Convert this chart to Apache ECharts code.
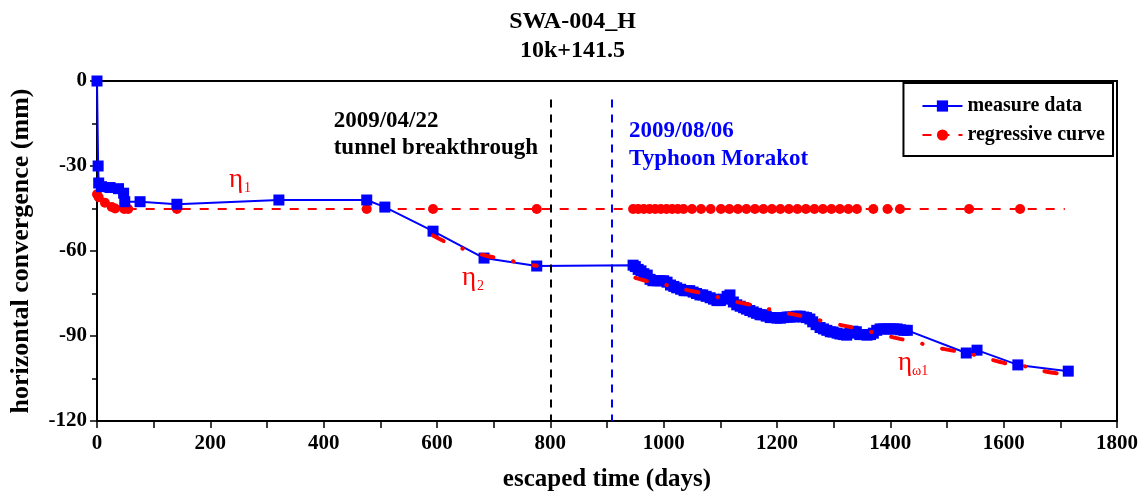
<!DOCTYPE html>
<html>
<head>
<meta charset="utf-8">
<script src="https://cdn.jsdelivr.net/npm/echarts@6/dist/echarts.min.js"></script>
<style>html,body{margin:0;padding:0;background:#fff}#c{width:1145px;height:499px}</style>
</head>
<body>
<div id="c"></div>
<script>
// ---- data ----
const measureDays = [0,2,3,8,23,38,47,49,76,141,321,476,508,593,683,776,946,
  950,955,960,965,971,976,981,988,994,1000,1006,1012,1018,1023,1030,1036,1041,1046,1052,1058,1064,1069,1075,1082,1088,1094,1100,1106,1112,1117,1123,1129,1135,1141,1146,1152,1158,1164,1170,1175,1181,1188,1194,1200,1206,1212,1218,1223,1229,1235,1241,1247,1252,1258,1263,1269,1276,1282,1288,1294,1299,1306,1311,1317,1323,1329,1334,1340,1346,1352,1359,1365,1370,1376,1382,1388,1394,1400,1406,1412,1418,1424,1430,
  1534,1553,1625,1714];
const measureValues = [0,-30,-36,-37.3,-37.6,-38,-39.6,-42.6,-42.6,-43.5,-42,-42,-44.5,-53,-62.5,-65.3,-65,
  -65.5,-66.5,-67,-68,-68.5,-70,-70.5,-70.5,-70.5,-70.5,-71,-72,-72.5,-73,-73.5,-74,-74,-74,-74.5,-75,-75.5,-75.5,-76,-76.5,-77,-77.5,-77.5,-77,-76,-75.5,-78,-79,-79.5,-80,-80.5,-81,-81.5,-82,-82.5,-82.5,-83,-83.5,-83.5,-83.7,-83.7,-83.5,-83.3,-83.3,-83.3,-83,-83,-83.3,-83.5,-84,-85,-86,-87,-87.5,-88,-88.5,-88.6,-89,-89.3,-89.5,-89.7,-89,-88.3,-88.5,-89.5,-89.5,-89.7,-89.5,-89,-88,-87.5,-87.5,-87.5,-87.5,-87.5,-87.5,-87.8,-88,-88,
  -96,-95,-100.2,-102.4];

// regression eta1 (circles at evaluated days)
const eta1Days = [0,3,14,26,32,48,55,141,476,593,776,946,955,965,975,985,995,1005,1015,1025,1035,1050,1066,1083,1101,1116,1131,1146,1161,1176,1191,1206,1221,1236,1251,1266,1281,1296,1311,1326,1341,1370,1395,1417,1539,1629];
const eta1Values = [-40,-41,-43,-44.5,-45,-45.2,-45.2,-45.2,-45.2,-45.2,-45.2,-45.2,-45.2,-45.2,-45.2,-45.2,-45.2,-45.2,-45.2,-45.2,-45.2,-45.2,-45.2,-45.2,-45.2,-45.2,-45.2,-45.2,-45.2,-45.2,-45.2,-45.2,-45.2,-45.2,-45.2,-45.2,-45.2,-45.2,-45.2,-45.2,-45.2,-45.2,-45.2,-45.2,-45.2,-45.2];
const eta1EndDay = 1708;

// regression eta2
const eta2Days = [593,620,650,683,720,750,776];
const eta2Values = [-54.5,-57.3,-59.5,-61.5,-63,-64.3,-65.2];

// regression eta_omega1
const etaW1Days = [950,970,1000,1032,1067,1094,1129,1164,1191,1225,1262,1285,1322,1359,1380,1417,1452,1477,1514,1549,1572,1609,1646,1669,1700];
const etaW1Values = [-69.5,-70.6,-71.8,-73.4,-74.8,-76.2,-78,-79.4,-80.8,-82.2,-83.7,-85,-86.5,-88.2,-89.3,-91,-92.5,-93.9,-95.3,-96.7,-98,-99.9,-101,-102.3,-103.3];

const xTicks = {min:0, max:1800, interval:200};
const yTicks = {min:-120, max:0, interval:30};
const eventDays = [801, 908];
const eventNames = ['2009/04/22\ntunnel breakthrough', '2009/08/06\nTyphoon Morakot'];

// ---- chart ----
const F = 'Liberation Serif, Times New Roman, serif';
const pairs = (a,b) => a.map((d,i)=>[d,b[i]]);
const eta1Data = pairs(eta1Days, eta1Values);
eta1Data.push({value:[eta1EndDay, -45.2], symbol:'none'});

const chart = echarts.init(document.getElementById('c'), null, {renderer:'canvas'});
chart.setOption({
  animation:false,
  backgroundColor:'#fff',
  title:{text:'SWA-004_H\n10k+141.5', left:'center', top:2,
    textStyle:{fontFamily:F, fontWeight:'bold', fontSize:24, lineHeight:29, color:'#000'}},
  grid:{left:97, right:28, top:81, bottom:78, show:true, borderColor:'#000', borderWidth:2, containLabel:false},
  legend:{orient:'vertical', right:32, top:83, padding:[13,8,11,18], itemGap:9,
    itemWidth:40, itemHeight:14, borderColor:'#000', borderWidth:2, backgroundColor:'#fff',
    data:['measure data','regressive curve'],
    textStyle:{fontFamily:F, fontWeight:'bold', fontSize:20, color:'#000'}},
  xAxis:{type:'value', min:xTicks.min, max:xTicks.max, interval:xTicks.interval,
    name:'escaped time (days)', nameLocation:'middle', nameGap:46,
    nameTextStyle:{fontFamily:F, fontWeight:'bold', fontSize:25, color:'#000'},
    axisLine:{onZero:false, lineStyle:{color:'#000', width:2}},
    axisTick:{show:true, inside:false, length:7, lineStyle:{color:'#000', width:1.5}},
    minorTick:{show:true, splitNumber:2, length:7, lineStyle:{color:'#000', width:1.5}},
    splitLine:{show:false},
    axisLabel:{fontFamily:F, fontWeight:'bold', fontSize:21, color:'#000', margin:12,
      formatter:v=>String(v)}},
  yAxis:{type:'value', min:yTicks.min, max:yTicks.max, interval:yTicks.interval,
    name:'horizontal convergence (mm)', nameLocation:'middle', nameGap:63,
    nameTextStyle:{fontFamily:F, fontWeight:'bold', fontSize:26, color:'#000'},
    axisLine:{onZero:false, lineStyle:{color:'#000', width:2}},
    axisTick:{show:true, inside:false, length:7, lineStyle:{color:'#000', width:1.5}},
    minorTick:{show:true, splitNumber:2, length:5, lineStyle:{color:'#000', width:1.5}},
    splitLine:{show:false},
    axisLabel:{fontFamily:F, fontWeight:'bold', fontSize:21, color:'#000', margin:10,
      formatter:v=>String(v)}},
  series:[
    {name:'regressive curve', type:'line', z:2, data:eta1Data, clip:false,
      symbol:'circle', symbolSize:10, showSymbol:true,
      itemStyle:{color:'#ff0000'},
      lineStyle:{color:'#ff0000', width:2, type:[9,9]},
      markLine:{silent:true, symbol:'none', label:{show:false},
        data:[
          [{coord:[eventDays[0], -6.5], lineStyle:{color:'#000', width:2, type:[8,7]}},{coord:[eventDays[0], -120]}],
          [{coord:[eventDays[1], -6.5], lineStyle:{color:'#0000ff', width:2, type:[8,7]}},{coord:[eventDays[1], -120]}]
        ]}},
    {name:'measure data', type:'line', z:3, data:pairs(measureDays, measureValues), clip:false,
      symbol:'rect', symbolSize:11, showSymbol:true,
      itemStyle:{color:'#0000ff'},
      lineStyle:{color:'#0000ff', width:2}},
    {name:'regressive curve', type:'line', z:4, data:pairs(eta2Days, eta2Values), smooth:0.3,
      symbol:'none', lineStyle:{color:'#ff0000', width:4, type:[12,20,0.5,20], cap:'round'}},
    {name:'regressive curve', type:'line', z:4, data:pairs(etaW1Days, etaW1Values), smooth:0.3,
      symbol:'none', lineStyle:{color:'#ff0000', width:4, type:[12,20,0.5,20], cap:'round'}}
  ],
  graphic:[
    {type:'text', right:1145-538, top:108, style:{text:eventNames[0], fontFamily:F, fontWeight:'bold', fontSize:23, lineHeight:27, fill:'#000', align:'right'}},
    {type:'text', left:629, top:117, style:{text:eventNames[1], fontFamily:F, fontWeight:'bold', fontSize:23, lineHeight:28, fill:'#0000ff', align:'left'}},
    {type:'text', left:229, top:166, style:{text:'η', fontFamily:F, fontSize:27, fill:'#ff0000'}},
    {type:'text', left:244, top:181, style:{text:'1', fontFamily:F, fontSize:14, fill:'#ff0000'}},
    {type:'text', left:462, top:264, style:{text:'η', fontFamily:F, fontSize:27, fill:'#ff0000'}},
    {type:'text', left:477, top:279, style:{text:'2', fontFamily:F, fontSize:14, fill:'#ff0000'}},
    {type:'text', left:898, top:349, style:{text:'η', fontFamily:F, fontSize:27, fill:'#ff0000'}},
    {type:'text', left:912, top:364, style:{text:'ω1', fontFamily:F, fontSize:14, fill:'#ff0000'}}
  ]
});
</script>
</body>
</html>
